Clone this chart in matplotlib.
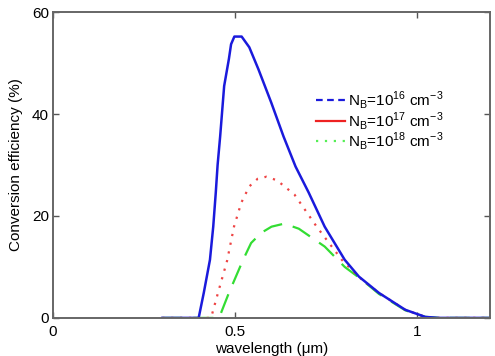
import matplotlib
matplotlib.use('Agg')
import matplotlib.pyplot as plt
from matplotlib.lines import Line2D

plt.rcParams['font.family'] = ['Liberation Sans', 'DejaVu Sans']
plt.rcParams['mathtext.fontset'] = 'custom'
plt.rcParams['mathtext.rm'] = 'Liberation Sans'

# wavelength (um) and conversion efficiency (%)
wl_blue = [0.30, 0.40, 0.414, 0.431, 0.440, 0.447, 0.452, 0.459, 0.470, 0.483, 0.489, 0.498,
           0.518, 0.539, 0.564, 0.599, 0.633, 0.666, 0.702, 0.746, 0.801, 0.840, 0.895, 0.967,
           1.022, 1.06, 1.2]
eff_blue = [0, 0, 4.9, 11.4, 17.9, 24.6, 30.0, 35.6, 45.5, 50.8, 53.7, 55.2,
            55.2, 53.1, 48.8, 42.3, 35.6, 29.7, 24.6, 17.9, 11.4, 8.1, 4.9, 1.6,
            0.2, 0, 0]

wl_red = [0.30, 0.434, 0.453, 0.478, 0.497, 0.517, 0.539, 0.562, 0.586, 0.615, 0.663, 0.724,
          0.793, 0.840, 0.895, 0.967, 1.022, 1.06, 1.2]
eff_red = [0, 0, 4.9, 11.2, 17.9, 22.6, 25.8, 27.3, 27.7, 27.0, 24.2, 17.9,
           11.4, 8.0, 4.9, 1.6, 0.2, 0, 0]

wl_green = [0.30, 0.456, 0.483, 0.522, 0.544, 0.572, 0.600, 0.635, 0.675, 0.746, 0.801, 0.848,
            0.895, 0.967, 1.022, 1.06, 1.2]
eff_green = [0, 0, 4.9, 11.4, 14.7, 16.7, 17.9, 18.5, 17.5, 14.0, 10.0, 7.5,
             4.7, 1.5, 0.2, 0, 0]

legend_labels = [r'N$_\mathregular{B}$=10$^\mathregular{16}$ cm$^\mathregular{-3}$',
                 r'N$_\mathregular{B}$=10$^\mathregular{17}$ cm$^\mathregular{-3}$',
                 r'N$_\mathregular{B}$=10$^\mathregular{18}$ cm$^\mathregular{-3}$']

fig = plt.figure(figsize=(4.95, 3.56), dpi=100)
ax = fig.add_axes([0.107, 0.107, 0.883, 0.859])

ax.plot(wl_green, eff_green, color='#33dd33', lw=1.6, dashes=(9, 5))
ax.plot(wl_red, eff_red, color='#ee4444', lw=1.6, ls=(0, (1, 3)))
ax.plot(wl_blue, eff_blue, color='#1a1adc', lw=1.8)

ax.set_xlim(0, 1.2)
ax.set_ylim(0, 60)
ax.set_xticks([0, 0.5, 1])
ax.set_xticklabels(['0', '0.5', '1'])
ax.set_yticks([0, 20, 40, 60])
ax.tick_params(direction='in', top=True, right=True, length=4, width=1,
               color='#555555', labelsize=11)
ax.tick_params(axis='x', pad=5)
ax.tick_params(axis='y', pad=3)
for s in ax.spines.values():
    s.set_color('#666666')
    s.set_linewidth(1.4)

ax.set_ylabel('Conversion efficiency (%)', fontsize=11, labelpad=6)
ax.set_xlabel('wavelength (\u03bcm)', fontsize=11, labelpad=2)

handles = [Line2D([], [], color='#1a1adc', lw=1.6, ls=(0, (3, 2))),
           Line2D([], [], color='#ee2222', lw=1.6),
           Line2D([], [], color='#55ee55', lw=1.6, ls=(0, (1, 3)))]
ax.legend(handles, legend_labels, frameon=False, fontsize=11,
          loc='center right', bbox_to_anchor=(0.91, 0.645),
          handlelength=1.9, handletextpad=0.15, labelspacing=-0.1, borderpad=0)

fig.savefig('out.png', dpi=100)
